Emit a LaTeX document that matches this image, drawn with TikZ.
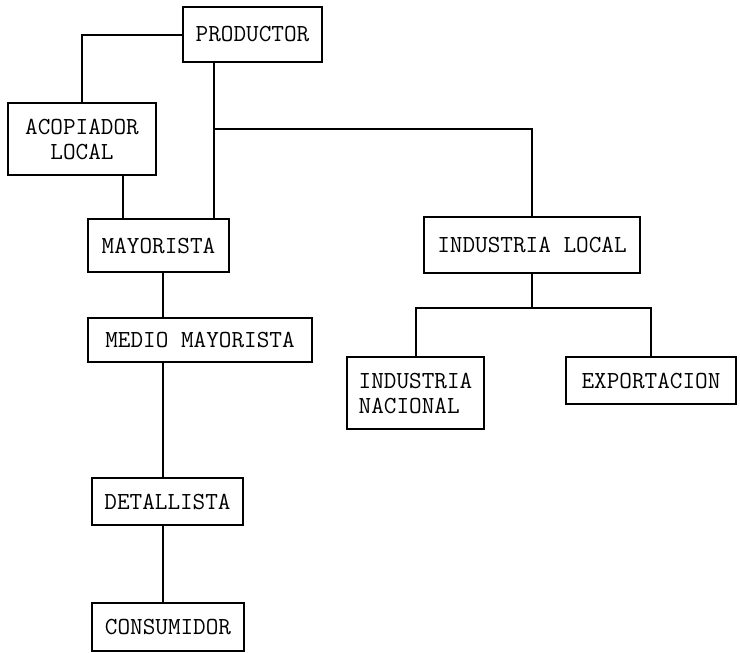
\documentclass[tikz,border=0pt]{standalone}
\usepackage{fontspec}
\usetikzlibrary{calc}

\tikzset{
  caja/.style={draw, line width=2.1pt, inner sep=0pt, align=center,
    font=\ttfamily\fontsize{24.5}{25}\selectfont},
  linea/.style={line width=2pt}
}

\begin{document}
\begin{tikzpicture}[x=1pt,y=-1pt]
\useasboundingbox (0,0) rectangle (740,653);

% Cajas
\node[caja, minimum width=139pt, minimum height=55pt] (prod) at (252.5,34.5) {PRODUCTOR};
\node[caja, minimum width=148pt, minimum height=72pt] (acop) at (82,139) {ACOPIADOR\\LOCAL};
\node[caja, minimum width=141pt, minimum height=53pt] (may) at (158.5,245.5) {MAYORISTA};
\node[caja, minimum width=224pt, minimum height=44pt] (medio) at (200,340) {MEDIO MAYORISTA};
\node[caja, minimum width=151pt, minimum height=47pt] (det) at (167.5,501.5) {DETALLISTA};
\node[caja, minimum width=152pt, minimum height=48pt] (cons) at (168,627) {CONSUMIDOR};
\node[caja, minimum width=216pt, minimum height=56pt] (il) at (532,245) {INDUSTRIA LOCAL};
\node[caja, minimum width=137pt, minimum height=72pt, align=left] (nac) at (415.5,393) {INDUSTRIA\\NACIONAL};
\node[caja, minimum width=170pt, minimum height=47pt] (exp) at (651,380.5) {EXPORTACION};

% Ejes de las lineas
\coordinate (ejeA) at (123,0);
\coordinate (ejeB) at (213.5,0);
\coordinate (ejeC) at (163,0);
\coordinate (ramal) at (213.5,129);
\coordinate (bif) at (532,308);

% Productor
\draw[linea] (prod.west) -| (acop.north);
\draw[linea] (prod.south -| ejeB) -- (may.north -| ejeB);
\draw[linea] (ramal) -| (il.north);

% Acopiador
\draw[linea] (acop.south -| ejeA) -- (may.north -| ejeA);

% Cadena izquierda
\draw[linea] (may.south -| ejeC) -- (medio.north -| ejeC);
\draw[linea] (medio.south -| ejeC) -- (det.north -| ejeC);
\draw[linea] (det.south -| ejeC) -- (cons.north -| ejeC);

% Industria
\draw[linea] (il.south) -- (bif);
\draw[linea] (nac.north) |- (bif) -| (exp.north);

\end{tikzpicture}
\end{document}
